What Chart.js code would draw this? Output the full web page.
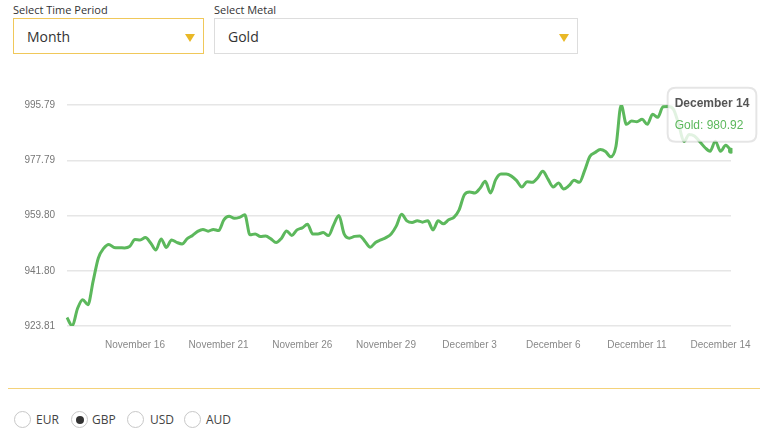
<!DOCTYPE html>
<html>
<head>
<meta charset="utf-8">
<script src="https://cdn.jsdelivr.net/npm/chart.js@4.4.0/dist/chart.umd.min.js"></script>
<style>
  body { margin: 0; background: #fff; font-family: 'Open Sans', sans-serif; width: 765px; height: 435px; overflow: hidden; position: relative; }
  .lbl { position: absolute; font-size: 11px; color: #333; }
  .sel { position: absolute; top: 18px; height: 36px; box-sizing: border-box; border: 1px solid #ddd; font-size: 14px; color: #333; line-height: 36px; padding-left: 13px; background: #fff; }
  .sel.active { border-color: #f0c85a; }
  .caret { position: absolute; top: 15px; width: 0; height: 0; border-left: 5px solid transparent; border-right: 5px solid transparent; border-top: 8px solid #e9b826; }
  #wrap { position: absolute; left: 0; top: 75px; width: 765px; height: 290px; }
  .rule { position: absolute; left: 8px; top: 388px; width: 752px; height: 1px; background: #f4d27a; }
  .radio { position: absolute; top: 411px; width: 17px; height: 17px; box-sizing: border-box; border: 1px solid #c8c8c8; border-radius: 50%; background: #fff; }
  .radio.on::after { content: ''; position: absolute; left: 3.5px; top: 3.5px; width: 8px; height: 8px; border-radius: 50%; background: #333; }
  .rlbl { position: absolute; top: 411px; font-size: 12px; color: #444; line-height: 18px; }
</style>
</head>
<body>
<div class="lbl" style="left:13px;top:2px;">Select Time Period</div>
<div class="sel active" style="left:13px;width:191px;">Month<span class="caret" style="left:171px;"></span></div>
<div class="lbl" style="left:214px;top:2px;">Select Metal</div>
<div class="sel" style="left:214px;width:364px;">Gold<span class="caret" style="left:344px;"></span></div>

<div id="wrap"><canvas id="priceChart"></canvas></div>

<div class="rule"></div>
<div class="radio" style="left:14px;"></div><div class="rlbl" style="left:36px;">EUR</div>
<div class="radio on" style="left:71px;"></div><div class="rlbl" style="left:92px;">GBP</div>
<div class="radio" style="left:127px;"></div><div class="rlbl" style="left:150px;">USD</div>
<div class="radio" style="left:184px;"></div><div class="rlbl" style="left:206px;">AUD</div>

<script>
// Gold price (GBP), month view
const goldPrices = [
    926.56, 923.81, 929.44, 932.38, 930.75, 938.43, 945.96, 949.07, 950.38, 949.40,
    949.33, 949.23, 949.72, 952.01, 951.85, 952.60, 950.87, 948.58, 952.18, 949.40,
    951.85, 951.03, 950.54, 952.27, 953.32, 954.63, 955.28, 954.70, 955.28, 954.89,
    958.39, 959.54, 958.88, 959.21, 960.03, 953.49, 953.81, 952.93, 953.09, 952.18,
    950.97, 952.34, 954.79, 953.32, 955.12, 955.78, 956.92, 953.81, 953.81, 954.24,
    953.26, 956.76, 959.80, 953.81, 952.41, 952.99, 953.16, 951.36, 949.46, 951.03,
    951.85, 952.60, 953.81, 956.43, 960.19, 958.07, 957.51, 958.07, 957.64, 958.07,
    955.12, 958.07, 957.08, 958.39, 959.21, 961.66, 966.57, 967.46, 967.13, 968.70,
    970.92, 967.13, 971.48, 973.28, 973.28, 972.62, 971.15, 969.09, 970.83, 970.60,
    972.04, 974.20, 971.64, 969.09, 970.40, 968.44, 969.52, 971.25, 970.60, 974.42,
    979.01, 980.31, 981.30, 980.64, 978.91, 982.38, 995.79, 989.48, 990.55, 990.36,
    991.11, 989.48, 992.75, 991.77, 995.20, 995.27, 994.38, 989.48, 983.91, 986.20,
    985.71, 983.91, 981.95, 980.74, 984.01, 980.74, 982.70, 980.92
];

// dates shown on the x axis and the point where each one sits
const tickDates = ['November 16', 'November 21', 'November 26', 'November 29',
                   'December 3', 'December 6', 'December 11', 'December 14'];
const tickIndex = [13, 29, 45, 61, 77, 93, 109, 125];

const yTicks = [923.81, 941.80, 959.80, 977.79, 995.79];

// each point takes the last date label before it
const labels = goldPrices.map((v, i) => {
    let d = '';
    tickIndex.forEach((t, k) => { if (t <= i) d = tickDates[k]; });
    return d;
});

Chart.Tooltip.positioners.aboveLeft = function(items) {
    if (!items.length) return false;
    const el = items[0].element;
    return { x: el.x - 19, y: el.y - 9 };
};

const tickFont = { family: "'Liberation Sans', Arial, sans-serif", size: 10 };

const ctx = document.getElementById('priceChart').getContext('2d');
const chart = new Chart(ctx, {
    type: 'line',
    data: {
        labels: labels,
        datasets: [{
            label: 'Gold',
            data: goldPrices,
            borderColor: '#5cb85c',
            backgroundColor: '#5cb85c',
            borderWidth: 3,
            pointRadius: 0,
            pointHoverRadius: 3,
            pointHoverBorderWidth: 0,
            pointHoverBackgroundColor: '#5cb85c',
            cubicInterpolationMode: 'monotone',
            fill: false
        }]
    },
    options: {
        responsive: true,
        maintainAspectRatio: false,
        animation: false,
        events: [],
        layout: { padding: { top: 30, right: 34, bottom: 9, left: 0 } },
        plugins: {
            legend: { display: false },
            tooltip: {
                position: 'aboveLeft',
                xAlign: 'center',
                yAlign: 'bottom',
                caretSize: 0,
                caretPadding: 0,
                backgroundColor: 'rgba(255,255,255,0.82)',
                borderColor: 'rgba(0,0,0,0.1)',
                borderWidth: 2,
                cornerRadius: 8,
                padding: { top: 9, bottom: 9, left: 7, right: 7 },
                displayColors: false,
                titleColor: '#555',
                titleFont: { family: "'Liberation Sans', Arial, sans-serif", size: 12, weight: 'bold' },
                titleMarginBottom: 7,
                bodyFont: { family: "'Liberation Sans', Arial, sans-serif", size: 12 },
                callbacks: {
                    label: (item) => 'Gold: ' + item.parsed.y.toFixed(2),
                    labelTextColor: () => '#5cb85c'
                }
            }
        },
        scales: {
            x: {
                grid: { display: false, drawTicks: false },
                border: { display: false },
                afterBuildTicks: (scale) => { scale.ticks = tickIndex.map(i => ({ value: i })); },
                afterFit: (scale) => { scale.height = 30; },
                ticks: {
                    autoSkip: false,
                    maxRotation: 0,
                    padding: 13,
                    color: '#888',
                    font: tickFont
                }
            },
            y: {
                min: yTicks[0],
                max: yTicks[yTicks.length - 1],
                grid: { color: '#e6e6e6', lineWidth: 1.5, drawTicks: false },
                border: { display: false },
                afterBuildTicks: (scale) => { scale.ticks = yTicks.map(v => ({ value: v })); },
                afterFit: (scale) => { scale.width = 67; },
                ticks: {
                    padding: 12,
                    color: '#777',
                    font: tickFont,
                    callback: (v) => Number(v).toFixed(2)
                }
            }
        }
    }
});

const last = goldPrices.length - 1;
chart.setActiveElements([{ datasetIndex: 0, index: last }]);
chart.tooltip.setActiveElements([{ datasetIndex: 0, index: last }], { x: 0, y: 0 });
chart.update('none');
</script>
</body>
</html>
